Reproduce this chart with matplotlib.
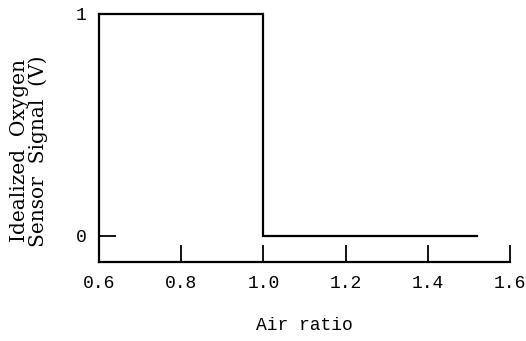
import matplotlib
matplotlib.use("Agg")
import matplotlib.pyplot as plt

air_ratio = [0.6, 1.0, 1.0, 1.52]
signal = [1.0, 1.0, 0.0, 0.0]
x_ticks = [0.6, 0.8, 1.0, 1.2, 1.4, 1.6]
x_tick_labels = ["0.6", "0.8", "1.0", "1.2", "1.4", "1.6"]
y_ticks = [0, 1]
y_tick_labels = ["0", "1"]

fig = plt.figure(figsize=(5.26, 3.41), dpi=100)
ax = fig.add_axes([0.188, 0.232, 0.782, 0.727])
ax.plot(air_ratio, signal, color="black", lw=1.6, clip_on=False, solid_joinstyle="miter")
ax.set_xlim(0.6, 1.6)
ax.set_ylim(-0.117, 1.0)
for s in ["top", "right"]:
    ax.spines[s].set_visible(False)
for s in ["left", "bottom"]:
    ax.spines[s].set_linewidth(1.6)
ax.set_xticks(x_ticks)
ax.set_xticklabels(x_tick_labels)
ax.set_yticks(y_ticks)
ax.set_yticklabels(y_tick_labels)
font = "Liberation Mono"
ax.tick_params(axis="both", direction="in", length=12, width=1.3, labelsize=13)
ax.tick_params(axis="x", pad=9.5)
ax.tick_params(axis="y", pad=9)
for lab in ax.get_xticklabels() + ax.get_yticklabels():
    lab.set_fontfamily(font)
ax.set_xlabel("Air ratio", fontsize=13, fontfamily=font, labelpad=18)
ax.set_ylabel("Idealized  Oxygen\nSensor  Signal  (V)", fontsize=14.5,
              fontfamily="DejaVu Serif", linespacing=0.95)
ax.yaxis.set_label_coords(-0.124, 0.448)
fig.savefig("out.png", dpi=100)
